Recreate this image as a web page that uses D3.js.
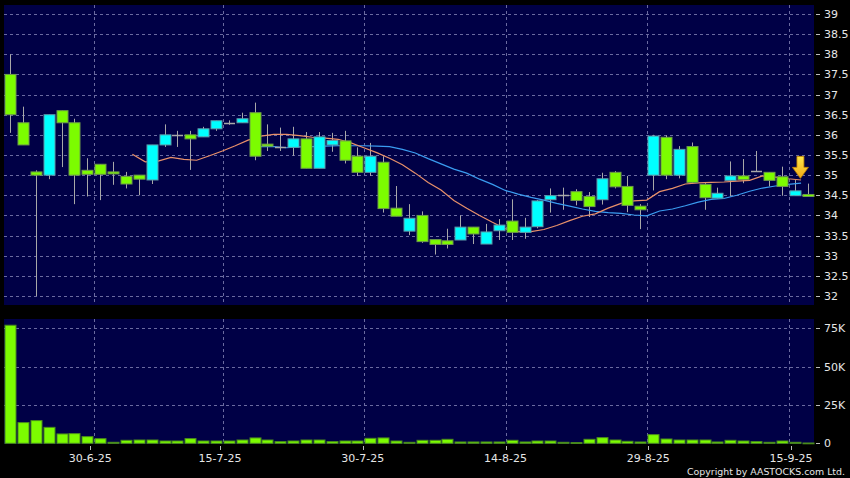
<!DOCTYPE html>
<html><head><meta charset="utf-8">
<script src="https://cdn.jsdelivr.net/npm/d3@7"></script>
<style>html,body{margin:0;padding:0;background:#000;}svg{display:block;}</style>
</head><body>
<svg id="chart" width="850" height="478"></svg>
<script>
// ---------------- DATA ----------------
const dates = ["19-6","20-6","23-6","24-6","25-6","26-6","27-6","30-6","2-7","3-7","4-7","7-7","8-7","9-7","10-7","11-7","14-7","15-7","16-7","17-7","18-7","21-7","22-7","23-7","24-7","25-7","28-7","29-7","30-7","31-7","1-8","4-8","5-8","6-8","7-8","8-8","11-8","12-8","13-8","14-8","15-8","18-8","19-8","20-8","21-8","22-8","25-8","26-8","27-8","28-8","29-8","1-9","2-9","3-9","4-9","5-9","8-9","9-9","10-9","11-9","12-9","15-9","16-9"];
const open  = [37.5,36.3,35.08,35.0,36.6,36.3,35.12,35.27,35.08,34.97,35.0,34.88,35.75,36.0,36.0,35.95,36.15,36.3,36.3,36.55,35.77,35.7,35.69,35.9,35.17,35.75,35.85,35.47,35.07,35.32,34.18,33.61,34.0,33.4,33.37,33.39,33.71,33.29,33.62,33.86,33.58,33.72,34.39,34.5,34.59,34.47,34.39,35.07,34.72,34.23,35.0,35.94,35.0,35.71,34.77,34.43,34.87,34.98,35.1,35.07,34.96,34.49,34.52];
const high  = [38.0,36.7,35.12,36.5,36.6,36.4,35.42,35.27,35.33,35.08,35.0,35.75,36.26,36.1,36.1,36.2,36.35,36.36,36.55,36.8,36.26,36.18,36.2,36.07,36.07,36.05,36.1,35.69,35.8,35.47,34.73,34.28,34.1,33.4,33.67,34.0,33.71,33.79,33.91,34.4,33.94,34.38,34.67,34.69,34.65,34.58,35.06,35.1,34.98,34.28,36.0,35.99,35.72,35.81,34.8,34.69,35.34,35.4,35.6,35.07,35.21,34.88,34.79];
const low   = [36.05,35.75,32.0,34.9,35.2,34.28,34.47,34.38,34.76,34.67,34.5,34.78,35.7,35.7,35.13,35.95,36.1,36.25,36.3,35.37,35.6,35.6,35.48,35.17,35.17,35.58,35.29,34.98,34.98,34.07,33.98,33.51,33.32,33.03,33.18,33.39,33.29,33.29,33.39,33.39,33.42,33.68,34.07,34.14,34.25,33.96,34.27,34.67,34.08,33.66,34.62,34.9,34.92,34.8,34.14,34.42,34.47,34.8,35.1,34.72,34.49,34.49,34.47];
const close = [36.5,35.75,35.0,36.5,36.3,35.0,35.02,35.02,35.03,34.78,34.9,35.75,36.0,36.0,35.9,36.15,36.35,36.3,36.4,35.47,35.72,35.7,35.9,35.17,35.95,35.86,35.37,35.07,35.47,34.17,33.98,33.93,33.35,33.28,33.28,33.71,33.54,33.59,33.76,33.58,33.71,34.36,34.49,34.5,34.37,34.22,34.91,34.71,34.25,34.14,35.97,35.0,35.64,34.82,34.44,34.55,34.98,34.89,35.1,34.87,34.72,34.61,34.47];
const volume = [77000,13500,14800,10400,6100,6300,4350,3000,650,1950,2150,2150,1500,1500,3050,1500,1500,1500,2150,3500,2150,1100,1500,2150,2150,1100,1500,1500,3250,3500,1500,650,1950,1950,2600,870,870,870,870,1950,870,1500,1500,650,430,2600,3700,2150,1300,870,5650,2800,2150,2150,2150,870,1950,1500,1100,650,1500,650,200];
// moving averages (MA10 from the 11th session, MA20 from the 21st)
const ma10Values = [35.52,35.33,35.35,35.44,35.39,35.37,35.48,35.6,35.73,35.87,35.97,36.01,36.01,35.98,35.94,35.92,35.89,35.8,35.68,35.56,35.42,35.26,35.05,34.82,34.63,34.37,34.18,34.0,33.83,33.67,33.6,33.6,33.65,33.75,33.87,33.98,34.04,34.18,34.3,34.36,34.38,34.59,34.67,34.78,34.81,34.82,34.83,34.85,34.87,34.98,34.95,34.91,34.88];
const ma20Values = [35.71,35.71,35.68,35.70,35.71,35.72,35.73,35.73,35.73,35.72,35.71,35.64,35.55,35.41,35.28,35.15,35.05,34.9,34.77,34.62,34.53,34.45,34.38,34.3,34.23,34.16,34.1,34.07,34.05,34.01,33.99,34.11,34.16,34.24,34.33,34.4,34.42,34.5,34.6,34.68,34.73,34.77,34.8];
const dateTicks = ["30-6","15-7","30-7","14-8","29-8","15-9"];
const dateTickLabels = ["30-6-25","15-7-25","30-7-25","14-8-25","29-8-25","15-9-25"];
const priceTicks = [32,32.5,33,33.5,34,34.5,35,35.5,36,36.5,37,37.5,38,38.5,39];
const volTicks = [0,25000,50000,75000];
const volTickLabels = ["0","25K","50K","75K"];
const arrowPrice = 34.92;

// ---------------- LAYOUT ----------------
const svg = d3.select("#chart");
const P = {x0:4, x1:814, y0:5, y1:305};      // price panel
const V = {x0:4, x1:814, y0:319, y1:444};    // volume panel
const BG = "#000046";
const GRID = "#6a6aa0";
const TXT = "#e6e6e6";
const FONT = "DejaVu Sans, Verdana, sans-serif";

const n = dates.length;
const x = d3.scaleLinear().domain([0, n-1]).range([10.2, 807.5]);
const xLab = d3.scaleLinear().domain([0, n-1]).range([-0.5, 804]);
const y = d3.scaleLinear().domain([32, 39]).range([296, 14]);
const yv = d3.scaleLinear().domain([0, 75000]).range([443.3, 328.3]);

svg.append("rect").attr("width",850).attr("height",478).attr("fill","#000");
svg.append("rect").attr("x",P.x0).attr("y",P.y0).attr("width",P.x1-P.x0).attr("height",P.y1-P.y0).attr("fill",BG);
svg.append("rect").attr("x",V.x0).attr("y",V.y0).attr("width",V.x1-V.x0).attr("height",V.y1-V.y0).attr("fill",BG);

const tickIdx = dateTicks.map(d => dates.indexOf(d));

// grid
const g = svg.append("g").attr("stroke",GRID).attr("stroke-width",1).attr("stroke-dasharray","3,3").attr("fill","none");
priceTicks.forEach(p => {
  const yy = Math.round(y(p))+0.5;
  g.append("line").attr("x1",P.x0).attr("x2",P.x1).attr("y1",yy).attr("y2",yy);
});
volTicks.slice(1).forEach(v => {
  const yy = Math.round(yv(v))+0.5;
  g.append("line").attr("x1",V.x0).attr("x2",V.x1).attr("y1",yy).attr("y2",yy);
});
tickIdx.forEach(i => {
  const xx = Math.round(x(i-0.47))+0.5;
  g.append("line").attr("x1",xx).attr("x2",xx).attr("y1",P.y0).attr("y2",P.y1);
  g.append("line").attr("x1",xx).attr("x2",xx).attr("y1",V.y0).attr("y2",V.y1);
});

// axis labels
const ax = svg.append("g").attr("font-family",FONT).attr("font-size",11).attr("fill",TXT);
priceTicks.forEach(p => {
  const yy = y(p);
  svg.append("line").attr("x1",816).attr("x2",820).attr("y1",Math.round(yy)+0.5).attr("y2",Math.round(yy)+0.5).attr("stroke","#bbb");
  ax.append("text").attr("x",824).attr("y",yy).attr("dy","0.36em").text(d3.format("")(p));
});
volTicks.forEach((v,k) => {
  const yy = yv(v);
  svg.append("line").attr("x1",816).attr("x2",820).attr("y1",Math.round(yy)+0.5).attr("y2",Math.round(yy)+0.5).attr("stroke","#bbb");
  ax.append("text").attr("x",824).attr("y",yy).attr("dy","0.36em").text(volTickLabels[k]);
});
tickIdx.forEach((i,k) => {
  const xx = xLab(i);
  svg.append("line").attr("x1",Math.round(xx)+0.5).attr("x2",Math.round(xx)+0.5).attr("y1",446).attr("y2",450).attr("stroke","#bbb");
  ax.append("text").attr("x",xx).attr("y",461.5).attr("text-anchor","middle").text(dateTickLabels[k]);
});

// MA lines
const ma10 = d3.range(n).map(i => i >= n - ma10Values.length ? ma10Values[i - (n - ma10Values.length)] : null);
const ma20 = d3.range(n).map(i => i >= n - ma20Values.length ? ma20Values[i - (n - ma20Values.length)] : null);
const line = d3.line().defined(d => d != null).x((d,i) => x(i-0.5)).y(d => y(d)).curve(d3.curveLinear);

// candles: wicks
const cg = svg.append("g");
const bw = 11;
d3.range(n).forEach(i => {
  const cx = Math.round(x(i)) + 0.5;
  cg.append("line").attr("x1",cx).attr("x2",cx).attr("y1",y(high[i])).attr("y2",y(low[i])).attr("stroke","#a8a8a8").attr("stroke-width",1);
});
svg.append("path").attr("d",line(ma20)).attr("fill","none").attr("stroke","#3a9cf0").attr("stroke-width",1.2);
svg.append("path").attr("d",line(ma10)).attr("fill","none").attr("stroke","#e8906a").attr("stroke-width",1.2);
// candles: bodies
const bg2 = svg.append("g");
d3.range(n).forEach(i => {
  const cx = Math.round(x(i)) + 0.5;
  const o = open[i], c = close[i];
  if (Math.abs(o - c) < 0.005) {
    bg2.append("line").attr("x1",cx-bw/2).attr("x2",cx+bw/2).attr("y1",Math.round(y(c))+0.5).attr("y2",Math.round(y(c))+0.5).attr("stroke","#a8a8a8").attr("stroke-width",1.5);
  } else {
    const top = y(Math.max(o,c)), bot = y(Math.min(o,c));
    bg2.append("rect").attr("x",cx-bw/2).attr("y",top).attr("width",bw).attr("height",Math.max(bot-top,2))
      .attr("fill", c > o ? "#00ffff" : "#7cfc00")
      .attr("stroke", c > o ? "#5d9aa8" : "#6e9a4a").attr("stroke-width",1);
  }
});

// volume bars
const vg = svg.append("g");
d3.range(n).forEach(i => {
  const cx = Math.round(x(i)) + 0.5;
  const top = yv(volume[i]);
  vg.append("rect").attr("x",cx-bw/2).attr("y",top).attr("width",bw).attr("height",Math.max(yv(0)-top,0.8))
    .attr("fill","#7cfc00").attr("stroke","#4a8c1c").attr("stroke-width",1);
});

// arrow marker
const defs = svg.append("defs");
const grad = defs.append("linearGradient").attr("id","ag").attr("x1",0).attr("y1",0).attr("x2",0).attr("y2",1);
grad.append("stop").attr("offset","0%").attr("stop-color","#ffe84a");
grad.append("stop").attr("offset","100%").attr("stop-color","#f2a814");
const axx = x(n-1.55), ayy = y(arrowPrice);
svg.append("path")
  .attr("d",`M${axx-3.5},${ayy-22} L${axx+3.5},${ayy-22} L${axx+3.5},${ayy-11} L${axx+8},${ayy-11} L${axx},${ayy} L${axx-8},${ayy-11} L${axx-3.5},${ayy-11} Z`)
  .attr("fill","url(#ag)").attr("stroke","#c08000").attr("stroke-width",0.8);

// copyright
svg.append("text").attr("x",845).attr("y",474.5).attr("text-anchor","end").attr("font-family",FONT).attr("font-size",9.5)
  .attr("fill",TXT).attr("textLength",158).attr("lengthAdjust","spacingAndGlyphs").text("Copyright by AASTOCKS.com Ltd.");
</script>
</body></html>
